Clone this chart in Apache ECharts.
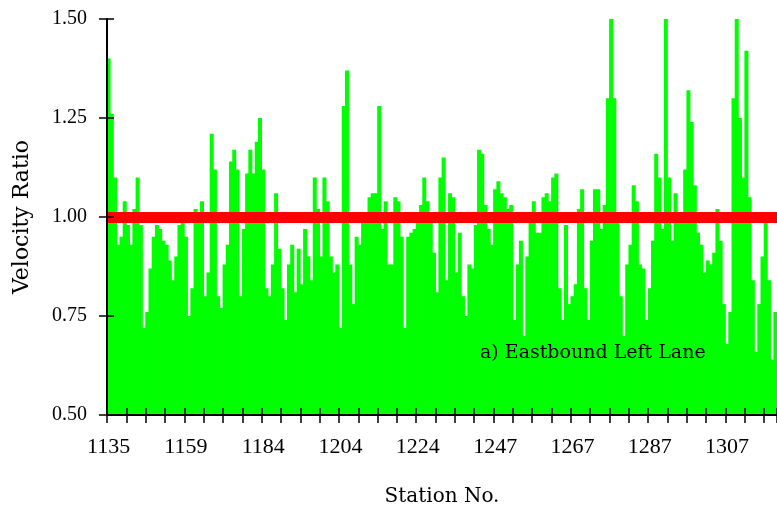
<!DOCTYPE html>
<html>
<head>
<meta charset="utf-8">
<script src="https://cdn.jsdelivr.net/npm/echarts@6/dist/echarts.min.js"></script>
<style>html,body{margin:0;padding:0;background:#fff}#c{width:777px;height:515px}</style>
</head>
<body>
<div id="c"></div>
<script>
// Station tick labels (one every 24 bars)
var tickLabels = ['1135','1159','1184','1204','1224','1247','1267','1287','1307'];
var barsPerLabel = 24;
// Velocity ratio per bar
var velocityRatio = [
1.40,1.26,1.10,0.93,0.95,1.04,0.98,0.93,1.02,1.10,0.98,0.72,0.76,0.87,0.95,0.98,0.97,0.94,0.93,0.89,
0.84,0.90,0.98,0.99,0.95,0.75,0.82,1.02,1.00,1.04,0.80,0.86,1.21,1.12,0.80,0.77,0.88,0.93,1.14,1.17,
1.12,0.80,0.97,1.11,1.17,1.11,1.19,1.25,1.12,0.82,0.80,0.88,1.06,0.92,0.82,0.74,0.88,0.93,0.81,0.92,
0.83,0.97,0.90,0.84,1.10,1.02,0.90,1.10,1.04,0.90,0.86,0.88,0.72,1.28,1.37,0.88,0.78,0.95,0.93,1.01,
1.01,1.05,1.06,1.06,1.28,0.97,1.04,0.88,0.88,1.05,1.04,0.95,0.72,0.95,0.96,0.97,0.99,1.03,1.10,1.04,
0.99,0.91,0.81,1.10,1.15,0.84,1.06,1.05,0.86,0.96,0.80,0.75,0.88,0.87,0.98,1.17,1.16,1.03,0.97,0.93,
1.07,1.09,1.06,1.05,1.02,1.03,0.74,0.88,0.94,0.70,0.90,1.00,1.04,0.96,0.96,1.05,1.06,1.04,1.10,1.11,
0.82,0.74,0.98,0.78,0.80,0.83,1.02,1.07,0.82,0.74,0.94,1.07,1.07,0.97,1.03,1.30,1.50,1.30,1.00,0.80,
0.70,0.88,0.93,1.08,1.04,0.88,0.87,0.74,0.82,0.94,1.16,1.10,0.97,1.50,1.10,0.94,1.06,1.00,0.99,1.12,
1.32,1.24,1.08,0.96,0.93,0.86,0.89,0.88,0.91,1.02,0.94,0.78,0.68,0.76,1.30,1.50,1.25,1.10,1.42,1.05,
0.84,0.66,0.78,0.90,0.99,0.84,0.64,0.76
];
var referenceRatio = 1.0;
var yTicks = [0.5, 0.75, 1.0, 1.25, 1.5];
var categories = velocityRatio.map(function (v, i) { return String(i); });

var chart = echarts.init(document.getElementById('c'), null, {renderer: 'canvas'});
var numFont = 'Liberation Serif';
var wordFont = 'DejaVu Serif';
chart.setOption({
  animation: false,
  backgroundColor: '#ffffff',
  grid: {left: 107, right: 0, top: 19, bottom: 100},
  xAxis: [{
    type: 'category',
    data: categories,
    boundaryGap: true,
    position: 'bottom',
    z: 10,
    axisLine: {lineStyle: {color: '#000', width: 2}},
    axisTick: {show: true, inside: false, length: 8, interval: 5, lineStyle: {color: '#000', width: 1.5}},
    axisLabel: {
      interval: function (i) { return i % barsPerLabel === 0; },
      formatter: function (v, i) { return tickLabels[i / barsPerLabel] || ''; },
      fontFamily: numFont, fontSize: 22, color: '#000', margin: 21
    },
    name: 'Station No.',
    nameLocation: 'middle',
    nameGap: 72,
    nameTextStyle: {fontFamily: wordFont, fontSize: 20, color: '#000'}
  }, {
    type: 'category',
    data: categories,
    boundaryGap: true,
    position: 'bottom',
    z: 10,
    axisLine: {show: false},
    axisTick: {show: true, inside: true, length: 7, interval: 5, lineStyle: {color: '#000', width: 1.5}},
    axisLabel: {show: false}
  }],
  yAxis: [{
    type: 'value',
    min: yTicks[0], max: yTicks[yTicks.length - 1], interval: 0.25,
    position: 'left',
    z: 10,
    splitLine: {show: false},
    axisLine: {show: true, lineStyle: {color: '#000', width: 2}},
    axisTick: {show: true, inside: false, length: 8, lineStyle: {color: '#000', width: 1.5}},
    axisLabel: {formatter: function (v) { return v.toFixed(2); }, fontFamily: numFont, fontSize: 20, color: '#000', margin: 20},
    name: 'Velocity Ratio',
    nameLocation: 'middle',
    nameGap: 74,
    nameTextStyle: {fontFamily: wordFont, fontSize: 22, color: '#000'}
  }, {
    type: 'value',
    min: yTicks[0], max: yTicks[yTicks.length - 1], interval: 0.25,
    position: 'left',
    z: 10,
    splitLine: {show: false},
    axisLine: {show: false},
    axisTick: {show: true, inside: true, length: 7, lineStyle: {color: '#000', width: 1.5}},
    axisLabel: {show: false}
  }],
  series: [{
    type: 'bar',
    xAxisIndex: 0,
    yAxisIndex: 0,
    data: velocityRatio,
    barWidth: 4,
    clip: true,
    itemStyle: {color: '#00ff00', borderWidth: 0},
    emphasis: {disabled: true},
    markLine: {
      silent: true,
      symbol: ['none', 'none'],
      label: {show: false},
      lineStyle: {color: '#ff0000', width: 11, type: 'solid'},
      data: [{yAxis: referenceRatio}]
    }
  }],
  graphic: [{
    type: 'text',
    left: 480,
    top: 344,
    z: 20,
    style: {text: 'a) Eastbound Left Lane', font: '19px "DejaVu Serif"', fill: '#000'}
  }]
});
</script>
</body>
</html>
